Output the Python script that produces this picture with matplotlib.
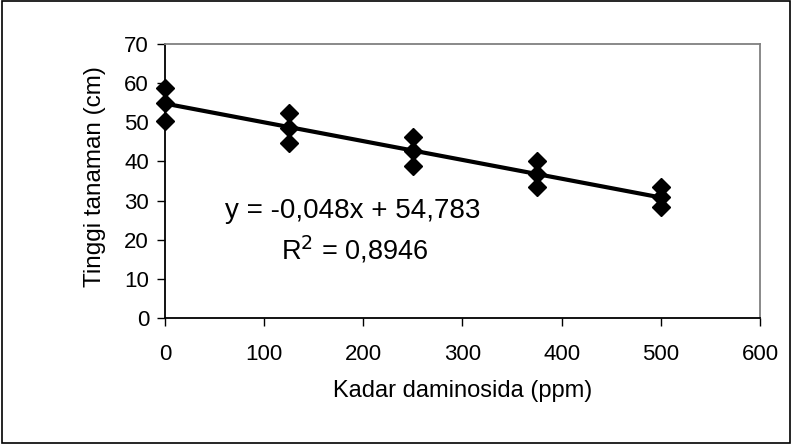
import numpy as np
import matplotlib
matplotlib.use("Agg")
import matplotlib.pyplot as plt
from matplotlib.patches import Rectangle

plt.rcParams["font.family"] = ["Liberation Sans", "DejaVu Sans"]

# data
kadar = [0, 0, 0, 125, 125, 125, 250, 250, 250, 375, 375, 375, 500, 500, 500]
tinggi = [58.8, 55.0, 50.4, 52.4, 48.6, 44.8, 46.2, 42.6, 38.8, 40.1, 36.8, 33.5, 33.4, 30.8, 28.3]

slope = -0.048
intercept = 54.783
r2 = 0.8946

x_ticks = [0, 100, 200, 300, 400, 500, 600]
y_ticks = [0, 10, 20, 30, 40, 50, 60, 70]


def main():
    fig = plt.figure(figsize=(7.92, 4.44), dpi=100)
    ax = fig.add_axes([0.2083, 0.2838, 0.7513, 0.6171])

    xs = np.array([min(kadar), max(kadar)])
    ax.plot(xs, slope * xs + intercept, color="black", lw=3, zorder=2)
    ax.plot(kadar, tinggi, linestyle="none", marker="D", ms=9.5,
            color="black", zorder=3, clip_on=False)

    ax.set_xlim(0, 600)
    ax.set_ylim(0, 70)
    ax.set_xticks(x_ticks)
    ax.set_yticks(y_ticks)
    ax.tick_params(axis="both", direction="out", length=5.5, width=1,
                   labelsize=16, colors="black")
    ax.tick_params(axis="x", pad=13)
    ax.tick_params(axis="y", pad=6)

    ax.spines["left"].set_color("black")
    ax.spines["bottom"].set_color("black")
    ax.spines["top"].set_color("#808080")
    ax.spines["right"].set_color("#808080")
    for s in ax.spines.values():
        s.set_linewidth(1.3)

    ax.set_xlabel("Kadar daminosida (ppm)", fontsize=17)
    ax.xaxis.set_label_coords(0.50, -0.228)
    ax.set_ylabel("Tinggi tanaman (cm)", fontsize=17.5)
    ax.yaxis.set_label_coords(-0.099, 0.515)

    ax.text(0.316, 0.365, f"y = {slope:.3f}x + {intercept:.3f}".replace(".", ","),
            transform=ax.transAxes, fontsize=20, ha="center", va="baseline")
    ax.text(0.318, 0.212, f"R$^2$ = {r2:.4f}".replace(".", ","),
            transform=ax.transAxes, fontsize=19.5, ha="center", va="baseline")

    fig.patches.append(Rectangle((0.002, 0.003), 0.995, 0.994, fill=False,
                                 edgecolor="black", lw=1.2,
                                 transform=fig.transFigure, figure=fig))

    fig.savefig("out.png", dpi=100)
    plt.close(fig)


if __name__ == "__main__":
    main()
